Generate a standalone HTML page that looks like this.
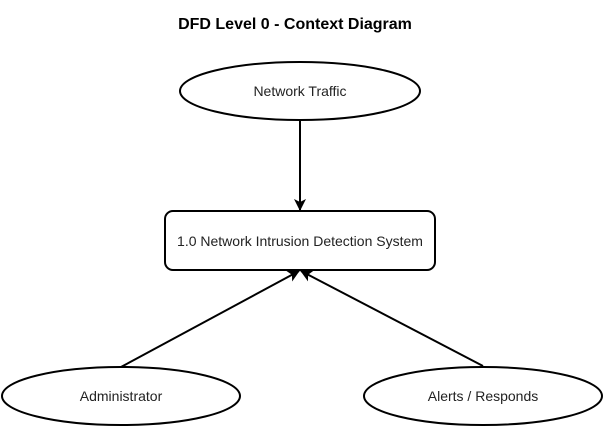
<!DOCTYPE html>
<html><head><style>
body{margin:0;background:#fff;}
svg text{font-family:"Liberation Sans",Arial,sans-serif;font-size:14px;fill:#222;}
</style></head><body>
<svg width="604" height="427" viewBox="0 0 604 427" xmlns="http://www.w3.org/2000/svg">
<defs><marker id="a" markerWidth="12" markerHeight="12" refX="11" refY="6" orient="auto" markerUnits="userSpaceOnUse"><path d="M0,0 L12,6 L0,12 L3,6 Z" fill="#000"/></marker></defs>
<text x="295" y="29" text-anchor="middle" style="font-weight:bold;font-size:16px;fill:#000">DFD Level 0 - Context Diagram</text>
<ellipse cx="300" cy="91" rx="120" ry="29" fill="#fff" stroke="#000" stroke-width="2"/>
<text x="300" y="96" text-anchor="middle">Network Traffic</text>
<rect x="165" y="211" width="270" height="59" rx="8" fill="#fff" stroke="#000" stroke-width="2"/>
<text x="300" y="246" text-anchor="middle">1.0 Network Intrusion Detection System</text>
<ellipse cx="121" cy="396" rx="119" ry="29" fill="#fff" stroke="#000" stroke-width="2"/>
<text x="121" y="401" text-anchor="middle">Administrator</text>
<ellipse cx="483" cy="396" rx="119" ry="29" fill="#fff" stroke="#000" stroke-width="2"/>
<text x="483" y="401" text-anchor="middle">Alerts / Responds</text>
<line x1="300" y1="120" x2="300" y2="210" stroke="#000" stroke-width="2" marker-end="url(#a)"/>
<line x1="121" y1="367" x2="299" y2="271" stroke="#000" stroke-width="2" marker-end="url(#a)"/>
<line x1="483" y1="366" x2="301" y2="271" stroke="#000" stroke-width="2" marker-end="url(#a)"/>
</svg>
</body></html>
